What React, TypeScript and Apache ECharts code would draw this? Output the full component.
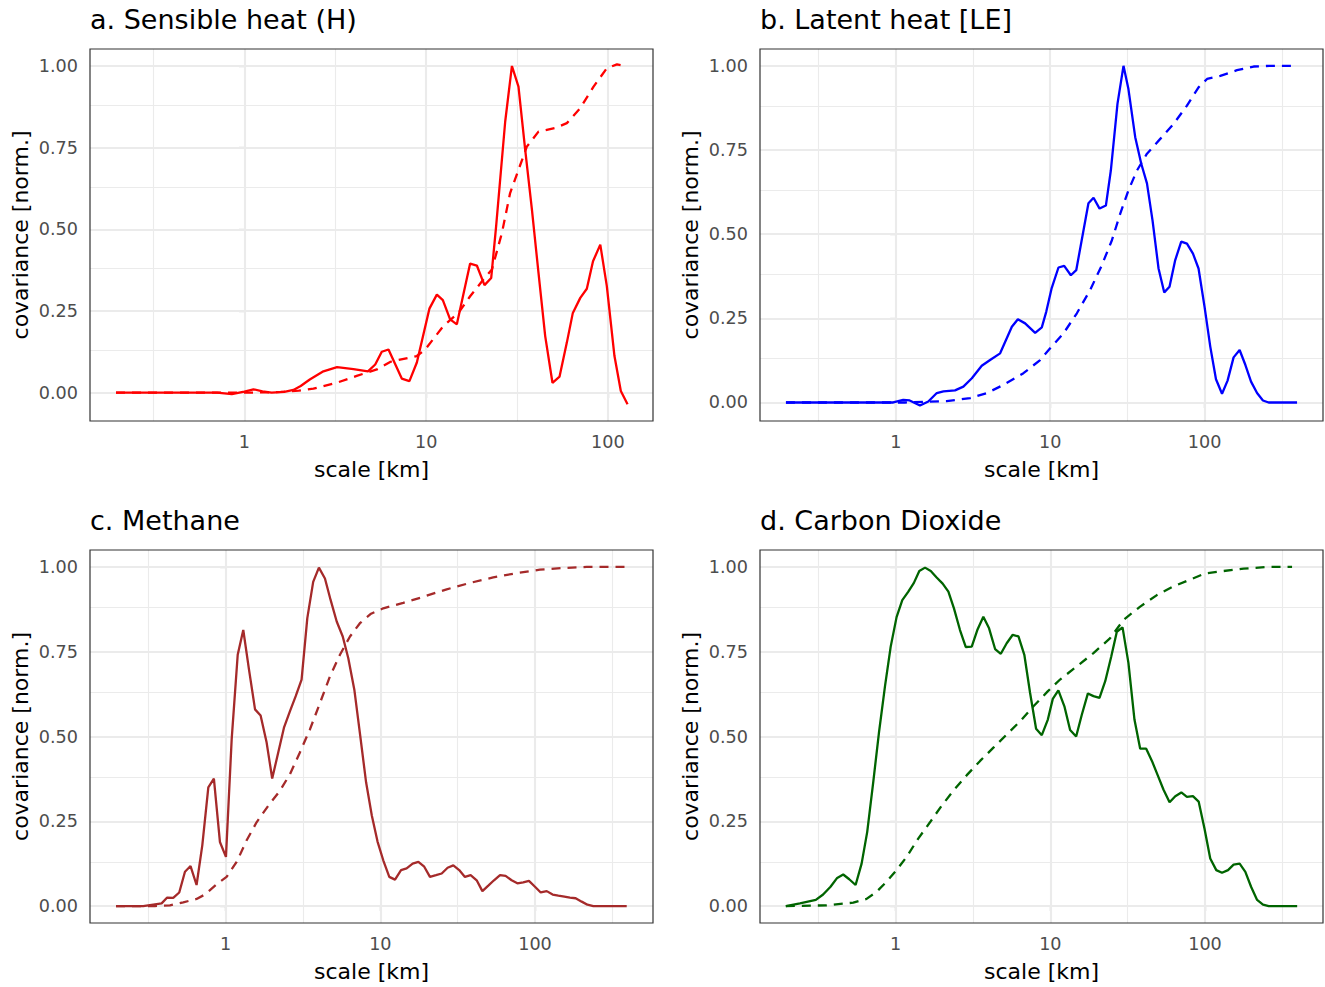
import { useEffect, useRef } from "react";
import * as echarts from "echarts";

// x values are log10(scale in km); y values are normalised covariance
const hSolidLogKm = [-0.706, -0.4, -0.15, -0.069, 0.0, 0.05, 0.1, 0.15, 0.22, 0.27, 0.31, 0.36, 0.435, 0.51, 0.6, 0.68, 0.72, 0.756, 0.793, 0.866, 0.908, 0.949, 1.018, 1.059, 1.092, 1.132, 1.169, 1.242, 1.279, 1.321, 1.358, 1.385, 1.435, 1.472, 1.508, 1.545, 1.582, 1.618, 1.655, 1.695, 1.734, 1.774, 1.807, 1.848, 1.884, 1.918, 1.958, 1.994, 2.036, 2.071, 2.108];
const hSolidCov = [0, 0, 0, -0.005, 0.003, 0.01, 0.004, 0.0, 0.002, 0.008, 0.02, 0.04, 0.065, 0.078, 0.072, 0.065, 0.086, 0.125, 0.132, 0.043, 0.035, 0.092, 0.257, 0.3, 0.283, 0.224, 0.209, 0.395, 0.389, 0.329, 0.351, 0.509, 0.83, 1.0, 0.937, 0.743, 0.56, 0.367, 0.173, 0.03, 0.049, 0.153, 0.244, 0.29, 0.318, 0.402, 0.453, 0.326, 0.112, 0.005, -0.036];
const hDashLogKm = [-0.706, 0.06, 0.2, 0.3, 0.38, 0.508, 0.618, 0.729, 0.802, 0.949, 0.995, 1.095, 1.178, 1.242, 1.315, 1.362, 1.417, 1.462, 1.508, 1.554, 1.618, 1.71, 1.774, 1.848, 1.921, 1.994, 2.05, 2.095];
const hDashCov = [0, 0, 0.002, 0.006, 0.012, 0.03, 0.051, 0.071, 0.094, 0.112, 0.132, 0.204, 0.244, 0.295, 0.346, 0.377, 0.489, 0.611, 0.682, 0.753, 0.799, 0.81, 0.825, 0.871, 0.937, 0.993, 1.005, 1.0];

const leSolidLogKm = [-0.711, -0.3, -0.016, 0.049, 0.09, 0.157, 0.211, 0.266, 0.309, 0.384, 0.438, 0.493, 0.557, 0.611, 0.676, 0.752, 0.791, 0.838, 0.903, 0.946, 0.975, 1.01, 1.054, 1.091, 1.134, 1.169, 1.248, 1.281, 1.32, 1.361, 1.393, 1.436, 1.475, 1.507, 1.551, 1.59, 1.627, 1.663, 1.702, 1.739, 1.773, 1.81, 1.849, 1.886, 1.925, 1.961, 2.0, 2.037, 2.074, 2.113, 2.149, 2.188, 2.227, 2.264, 2.301, 2.34, 2.378, 2.415, 2.599];
const leSolidCov = [0, 0, 0, 0.008, 0.006, -0.009, 0.003, 0.028, 0.033, 0.036, 0.047, 0.072, 0.109, 0.126, 0.146, 0.225, 0.247, 0.235, 0.207, 0.223, 0.27, 0.34, 0.401, 0.406, 0.378, 0.393, 0.592, 0.608, 0.576, 0.585, 0.689, 0.887, 1.0, 0.931, 0.788, 0.709, 0.651, 0.541, 0.398, 0.327, 0.344, 0.423, 0.478, 0.472, 0.442, 0.398, 0.284, 0.166, 0.069, 0.026, 0.065, 0.134, 0.156, 0.112, 0.062, 0.028, 0.006, 0, 0];
const leDashLogKm = [-0.711, 0.06, 0.33, 0.482, 0.59, 0.697, 0.827, 0.935, 1.0, 1.086, 1.173, 1.259, 1.335, 1.4, 1.454, 1.507, 1.562, 1.627, 1.713, 1.799, 1.886, 1.961, 2.016, 2.102, 2.21, 2.318, 2.42, 2.599];
const leDashCov = [0, 0, 0.004, 0.013, 0.028, 0.052, 0.087, 0.126, 0.161, 0.205, 0.265, 0.334, 0.408, 0.482, 0.561, 0.63, 0.689, 0.739, 0.783, 0.827, 0.882, 0.936, 0.961, 0.97, 0.987, 0.998, 1.0, 1.0];

const ch4SolidLogKm = [-0.709, -0.533, -0.414, -0.378, -0.339, -0.3, -0.263, -0.227, -0.188, -0.151, -0.112, -0.076, -0.037, 0.002, 0.039, 0.078, 0.114, 0.151, 0.19, 0.226, 0.265, 0.301, 0.34, 0.377, 0.416, 0.453, 0.491, 0.528, 0.566, 0.603, 0.642, 0.679, 0.718, 0.757, 0.793, 0.832, 0.869, 0.908, 0.945, 0.982, 1.019, 1.058, 1.095, 1.134, 1.17, 1.209, 1.246, 1.284, 1.321, 1.36, 1.397, 1.435, 1.472, 1.51, 1.547, 1.584, 1.623, 1.66, 1.698, 1.735, 1.774, 1.81, 1.849, 1.886, 1.924, 1.961, 2.0, 2.037, 2.076, 2.114, 2.151, 2.19, 2.226, 2.263, 2.302, 2.339, 2.377, 2.593];
const ch4SolidCov = [0, 0, 0.008, 0.025, 0.024, 0.04, 0.101, 0.118, 0.062, 0.179, 0.35, 0.376, 0.189, 0.145, 0.492, 0.741, 0.814, 0.697, 0.58, 0.562, 0.482, 0.376, 0.453, 0.526, 0.575, 0.619, 0.668, 0.849, 0.956, 0.998, 0.966, 0.902, 0.839, 0.795, 0.731, 0.638, 0.506, 0.365, 0.267, 0.19, 0.135, 0.086, 0.078, 0.106, 0.111, 0.125, 0.13, 0.116, 0.086, 0.091, 0.096, 0.113, 0.12, 0.106, 0.086, 0.091, 0.076, 0.044, 0.06, 0.076, 0.091, 0.089, 0.076, 0.067, 0.07, 0.074, 0.057, 0.04, 0.044, 0.034, 0.031, 0.028, 0.025, 0.023, 0.013, 0.004, 0, 0];
const ch4DashLogKm = [-0.709, -0.457, -0.36, -0.274, -0.188, -0.134, -0.058, 0.006, 0.071, 0.136, 0.2, 0.276, 0.351, 0.416, 0.48, 0.545, 0.61, 0.674, 0.739, 0.804, 0.868, 0.94, 1.019, 1.148, 1.278, 1.429, 1.58, 1.73, 1.882, 2.032, 2.183, 2.334, 2.582];
const ch4DashCov = [0, 0, 0.002, 0.011, 0.021, 0.034, 0.064, 0.086, 0.13, 0.194, 0.247, 0.296, 0.34, 0.389, 0.453, 0.521, 0.599, 0.677, 0.741, 0.795, 0.834, 0.862, 0.878, 0.894, 0.912, 0.934, 0.953, 0.969, 0.982, 0.992, 0.997, 1.0, 1.0];

const co2SolidLogKm = [-0.71, -0.619, -0.516, -0.469, -0.421, -0.378, -0.339, -0.3, -0.259, -0.22, -0.184, -0.145, -0.108, -0.069, -0.032, 0.006, 0.043, 0.082, 0.118, 0.153, 0.19, 0.227, 0.265, 0.304, 0.341, 0.377, 0.416, 0.453, 0.492, 0.528, 0.567, 0.604, 0.643, 0.68, 0.718, 0.757, 0.794, 0.832, 0.869, 0.908, 0.945, 0.984, 1.016, 1.052, 1.091, 1.128, 1.167, 1.204, 1.243, 1.279, 1.318, 1.355, 1.394, 1.43, 1.467, 1.505, 1.544, 1.581, 1.62, 1.657, 1.696, 1.732, 1.771, 1.808, 1.847, 1.883, 1.922, 1.959, 1.997, 2.034, 2.073, 2.11, 2.149, 2.185, 2.224, 2.261, 2.298, 2.337, 2.375, 2.412, 2.596];
const co2SolidCov = [0, 0.008, 0.018, 0.034, 0.057, 0.083, 0.093, 0.079, 0.062, 0.125, 0.218, 0.365, 0.511, 0.648, 0.765, 0.852, 0.902, 0.927, 0.953, 0.988, 0.998, 0.988, 0.969, 0.951, 0.927, 0.878, 0.814, 0.764, 0.765, 0.814, 0.853, 0.819, 0.758, 0.744, 0.775, 0.8, 0.795, 0.741, 0.629, 0.523, 0.504, 0.55, 0.611, 0.636, 0.589, 0.519, 0.5, 0.565, 0.627, 0.619, 0.614, 0.663, 0.736, 0.809, 0.822, 0.717, 0.55, 0.464, 0.464, 0.428, 0.384, 0.343, 0.306, 0.324, 0.335, 0.322, 0.324, 0.308, 0.228, 0.14, 0.106, 0.098, 0.106, 0.122, 0.125, 0.101, 0.057, 0.018, 0.004, 0, 0];
const co2DashLogKm = [-0.71, -0.447, -0.274, -0.188, -0.123, -0.058, 0.006, 0.071, 0.146, 0.222, 0.298, 0.373, 0.46, 0.546, 0.632, 0.718, 0.805, 0.891, 0.983, 1.063, 1.172, 1.279, 1.387, 1.473, 1.581, 1.689, 1.797, 1.905, 2.002, 2.12, 2.25, 2.401, 2.563];
const co2DashCov = [0, 0.002, 0.01, 0.021, 0.042, 0.072, 0.106, 0.145, 0.199, 0.247, 0.296, 0.34, 0.386, 0.428, 0.467, 0.506, 0.545, 0.589, 0.633, 0.668, 0.707, 0.746, 0.79, 0.844, 0.883, 0.917, 0.943, 0.963, 0.981, 0.988, 0.995, 1.0, 1.0];

const panelTitles = ["a. Sensible heat (H)", "b. Latent heat [LE]", "c. Methane", "d. Carbon Dioxide"];
const panelColors = ["#FF0000", "#0000FF", "#A52A2A", "#006400"];
const xMajorLog = [0, 1, 2];
const xMinorLog = [-0.5, 0.5, 1.5, 2.5];
const yMajor = [0, 0.25, 0.5, 0.75, 1];
const yMinor = [0.125, 0.375, 0.625, 0.875];

const FONT = "DejaVu Sans";

type PanelDef = {
  sx: number[]; sy: number[]; dx: number[]; dy: number[];
  left: number; top: number; width: number; height: number;
  xMin: number; xMax: number; yMin: number; yMax: number;
};

const panels: PanelDef[] = [
  { sx: hSolidLogKm, sy: hSolidCov, dx: hDashLogKm, dy: hDashCov, left: 90, top: 49, width: 563, height: 372, xMin: -0.849, xMax: 2.248, yMin: -0.087, yMax: 1.052 },
  { sx: leSolidLogKm, sy: leSolidCov, dx: leDashLogKm, dy: leDashCov, left: 760, top: 49, width: 563, height: 372, xMin: -0.879, xMax: 2.767, yMin: -0.055, yMax: 1.05 },
  { sx: ch4SolidLogKm, sy: ch4SolidCov, dx: ch4DashLogKm, dy: ch4DashCov, left: 90, top: 550, width: 563, height: 373, xMin: -0.877, xMax: 2.763, yMin: -0.05, yMax: 1.05 },
  { sx: co2SolidLogKm, sy: co2SolidCov, dx: co2DashLogKm, dy: co2DashCov, left: 760, top: 550, width: 563, height: 373, xMin: -0.877, xMax: 2.763, yMin: -0.05, yMax: 1.05 },
];

function pairs(xs: number[], ys: number[]) {
  return xs.map((x, i) => [x, ys[i]]);
}

function buildOption() {
  const grids: any[] = [];
  const xAxes: any[] = [];
  const yAxes: any[] = [];
  const series: any[] = [];
  const titles: any[] = [];
  panels.forEach((p, i) => {
    grids.push({
      left: p.left, top: p.top, width: p.width, height: p.height,
      show: true, borderColor: "#333333", borderWidth: 1.2, backgroundColor: "transparent", z: 10,
    });
    titles.push({
      text: panelTitles[i], left: p.left, top: p.top - 43, padding: 0,
      textStyle: { fontFamily: FONT, fontSize: 27, fontWeight: "normal", color: "#000000" },
    });
    xAxes.push({
      type: "value", gridIndex: i, min: p.xMin, max: p.xMax,
      axisLine: { show: false },
      axisTick: { show: true, length: 5.5, lineStyle: { color: "#333333", width: 1.1 }, customValues: xMajorLog },
      axisLabel: {
        customValues: xMajorLog, margin: 12, color: "#4D4D4D", fontSize: 17.6, fontFamily: FONT,
        formatter: (v: number) => String(Math.round(Math.pow(10, v))),
      },
      splitLine: { show: false },
      name: "scale [km]", nameLocation: "middle", nameGap: 37,
      nameTextStyle: { fontFamily: FONT, fontSize: 22, color: "#000000" },
    });
    yAxes.push({
      type: "value", gridIndex: i, min: p.yMin, max: p.yMax,
      axisLine: { show: false },
      axisTick: { show: true, length: 5.5, lineStyle: { color: "#333333", width: 1.1 }, customValues: yMajor },
      axisLabel: {
        customValues: yMajor, margin: 12, color: "#4D4D4D", fontSize: 17.6, fontFamily: FONT,
        formatter: (v: number) => v.toFixed(2),
      },
      splitLine: { show: false },
      name: "covariance [norm.]", nameLocation: "middle", nameGap: 59,
      nameTextStyle: { fontFamily: FONT, fontSize: 22, color: "#000000" },
    });
    const gl = (w: number) => ({ color: "#EBEBEB", width: w, type: "solid" });
    const markData: any[] = [
      ...xMinorLog.filter((v) => v > p.xMin && v < p.xMax).map((v) => ({ xAxis: v, lineStyle: gl(1.1) })),
      ...yMinor.map((v) => ({ yAxis: v, lineStyle: gl(1.1) })),
      ...xMajorLog.map((v) => ({ xAxis: v, lineStyle: gl(2.1) })),
      ...yMajor.map((v) => ({ yAxis: v, lineStyle: gl(2.1) })),
    ];
    series.push({
      type: "line", xAxisIndex: i, yAxisIndex: i, data: pairs(p.dx, p.dy),
      showSymbol: false, symbol: "none", z: 3,
      lineStyle: { color: panelColors[i], width: 2.3, type: [9, 7] },
      markLine: {
        silent: true, symbol: ["none", "none"], label: { show: false }, z: 1, animation: false,
        emphasis: { disabled: true }, data: markData,
      },
    });
    series.push({
      type: "line", xAxisIndex: i, yAxisIndex: i, data: pairs(p.sx, p.sy),
      showSymbol: false, symbol: "none", z: 4,
      lineStyle: { color: panelColors[i], width: 2.3, type: "solid" },
    });
  });
  return {
    animation: false,
    backgroundColor: "#FFFFFF",
    title: titles,
    grid: grids,
    xAxis: xAxes,
    yAxis: yAxes,
    series,
  };
}

export default function App() {
  const ref = useRef<HTMLDivElement>(null);
  useEffect(() => {
    if (!ref.current) return;
    const chart = echarts.init(ref.current, null, { renderer: "svg" });
    chart.setOption(buildOption() as any);
    return () => chart.dispose();
  }, []);
  return (
    <div
      ref={ref}
      style={{ position: "absolute", left: 0, top: 0, width: 1325, height: 987 }}
    />
  );
}
